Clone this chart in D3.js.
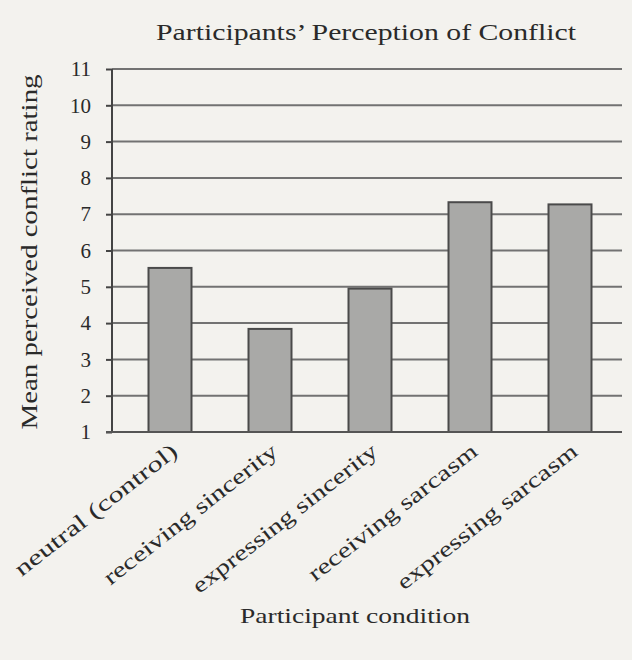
<!DOCTYPE html>
<html>
<head>
<meta charset="utf-8">
<script src="https://cdn.jsdelivr.net/npm/d3@7"></script>
<style>
  html, body { margin: 0; padding: 0; background: #f3f2ee; }
  svg { display: block; }
  text { font-family: "Liberation Serif", "Times New Roman", serif; fill: #2a2a2a; }
</style>
</head>
<body>
<svg id="chart" width="632" height="660"></svg>
<script>
const categories = ["neutral (control)", "receiving sincerity", "expressing sincerity", "receiving sarcasm", "expressing sarcasm"];
const values = [5.52, 3.84, 4.95, 7.33, 7.27];
const yTicks = [1, 2, 3, 4, 5, 6, 7, 8, 9, 10, 11];
const title = "Participants\u2019 Perception of Conflict";
const xTitle = "Participant condition";
const yTitle = "Mean perceived conflict rating";

const svg = d3.select("#chart");
const W = 632, H = 660;
svg.append("rect").attr("width", W).attr("height", H).attr("fill", "#f3f2ee");

const axisX = 112, plotRight = 622, yTop = 69, yBottom = 432;

const y = d3.scaleLinear().domain([1, 11]).range([yBottom, yTop]);
const x = d3.scaleBand().domain(categories).range([120, 620]).paddingInner(0.57).paddingOuter(0.285);

// gridlines
svg.append("g").selectAll("line").data(yTicks.slice(1)).join("line")
  .attr("x1", axisX).attr("x2", plotRight)
  .attr("y1", d => y(d)).attr("y2", d => y(d))
  .attr("stroke", "#727272").attr("stroke-width", 2);

// bars
svg.append("g").selectAll("rect").data(values).join("rect")
  .attr("x", (d, i) => x(categories[i]))
  .attr("y", d => y(d))
  .attr("width", x.bandwidth())
  .attr("height", d => y(1) - y(d))
  .attr("fill", "#a9a9a7")
  .attr("stroke", "#4a4a4a").attr("stroke-width", 2);

// y axis
const yAxis = d3.axisLeft(y).tickValues(yTicks).tickSize(6).tickPadding(15).tickFormat(d3.format("d"));
const gy = svg.append("g").attr("transform", `translate(${axisX},0)`).call(yAxis);
gy.select(".domain").attr("stroke", "#444").attr("stroke-width", 2).attr("d", `M0,${yTop}V${yBottom}`);
gy.selectAll(".tick line").attr("stroke", "#444").attr("stroke-width", 2);
gy.selectAll(".tick text").attr("font-size", 21).attr("font-family", "Liberation Serif").attr("fill", "#2a2a2a");

// x axis line + rotated labels
const labelLen = {"neutral (control)": 200, "receiving sincerity": 214, "expressing sincerity": 228, "receiving sarcasm": 208, "expressing sarcasm": 222};
const xAxis = d3.axisBottom(x).tickSize(0).tickPadding(0);
const gx = svg.append("g").attr("transform", `translate(0,${yBottom})`).call(xAxis);
gx.select(".domain").attr("stroke", "#555").attr("stroke-width", 2).attr("d", `M${axisX - 6},0H${plotRight}`);
gx.selectAll(".tick text")
  .attr("font-size", 22).attr("font-family", "Liberation Serif").attr("fill", "#2a2a2a")
  .attr("text-anchor", "end")
  .attr("dy", 0)
  .attr("textLength", d => labelLen[d])
  .attr("lengthAdjust", "spacingAndGlyphs")
  .attr("transform", "translate(9,22) rotate(-38)");

// titles
svg.append("text").attr("x", 156).attr("y", 40)
  .attr("font-size", 23).attr("textLength", 420).attr("lengthAdjust", "spacingAndGlyphs").text(title);
svg.append("text").attr("x", 240).attr("y", 623)
  .attr("font-size", 22).attr("textLength", 230).attr("lengthAdjust", "spacingAndGlyphs").text(xTitle);
svg.append("text").attr("transform", "translate(37,252) rotate(-90)").attr("text-anchor", "middle")
  .attr("font-size", 23).attr("textLength", 355).attr("lengthAdjust", "spacingAndGlyphs").text(yTitle);
</script>
</body>
</html>
